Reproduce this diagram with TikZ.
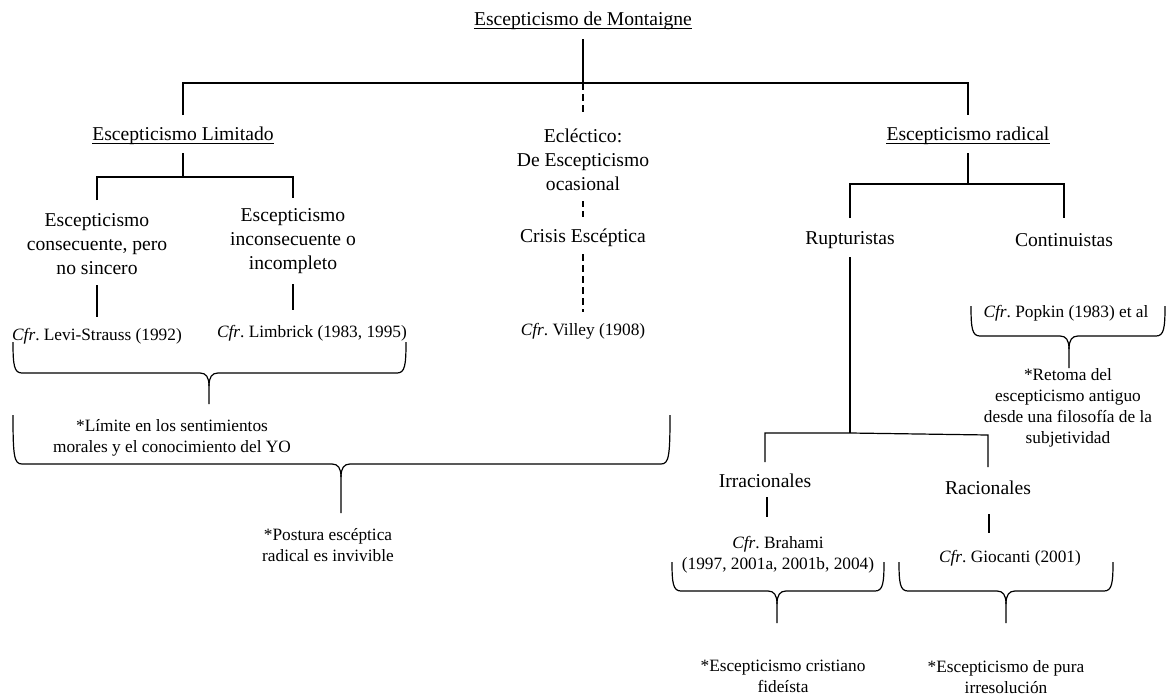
\documentclass[tikz,border=0pt]{standalone}
\usepackage{fontspec}
\setmainfont{Liberation Serif}
\usetikzlibrary{calc}
\frenchspacing
\tikzset{
  ln/.style={line width=1.2pt},
  dsh/.style={line width=1.2pt, dash pattern=on 7pt off 4pt},
  brc/.style={line width=1.2pt, line join=round},
  ul/.style={line width=0.8pt},
  big/.style={inner sep=0pt, align=center, anchor=center, font=\fontsize{19.6}{24}\selectfont},
  small/.style={inner sep=0pt, align=center, anchor=center, font=\fontsize{17.3}{21}\selectfont},
}
% xl, xr, ytop, ybottom, xtip, yend
\newcommand\bracepath[6]{%
  \draw[brc] (#1,#3) .. controls (#1,#4-8) and (#1+1,#4) .. (#1+9,#4) -- (#5-9,#4)
     .. controls (#5-3,#4) and (#5,#4+4) .. (#5,#4+13) -- (#5,#6);
  \draw[brc] (#2,#3) .. controls (#2,#4-8) and (#2-1,#4) .. (#2-9,#4) -- (#5+9,#4)
     .. controls (#5+3,#4) and (#5,#4+4) .. (#5,#4+13);
}
\newcommand\ulnode[1]{\draw[ul] ($(#1.base west)+(0,2.5)$) -- ($(#1.base east)+(0,2.5)$);}
\begin{document}
\begin{tikzpicture}[x=1pt,y=-1pt]
\useasboundingbox (0,0) rectangle (1167,696);

% ---- nodes ----
\node[big] (root) at (583,21) {Escepticismo de Montaigne};
\node[big] (lim) at (183,136) {Escepticismo Limitado};
\node[big] (ecl) at (583,160) {Ecléctico:\\De Escepticismo\\ocasional};
\node[big] (rad) at (968,136) {Escepticismo radical};

\node[big] (cons) at (97,244.5) {Escepticismo\\consecuente, pero\\no sincero};
\node[big] (incons) at (293,241) {Escepticismo\\inconsecuente o\\incompleto};
\node[big] (crisis) at (583,238) {Crisis Escéptica};

\node[small] (levi) at (97,336) {\textit{Cfr}. Levi-Strauss (1992)};
\node[small] (limb) at (312,333) {\textit{Cfr}. Limbrick (1983, 1995)};
\node[small] (villey) at (583,331) {\textit{Cfr}. Villey (1908)};

\node[small] (limite) at (172,438) {*Límite en los sentimientos\\morales y el conocimiento del YO};
\node[small] (postura) at (328,545.5) {*Postura escéptica\\radical es invivible};

\node[big] (rup) at (850,240) {Rupturistas};
\node[big] (cont) at (1064,240) {Continuistas};
\node[small] (popkin) at (1066,313) {\textit{Cfr}. Popkin (1983) et al};
\node[small] (retoma) at (1068,407.5) {*Retoma del\\escepticismo antiguo\\desde una filosofía de la\\subjetividad};

\node[big] (irr) at (765,481) {Irracionales};
\node[big] (rac) at (988,488) {Racionales};
\node[small] (brahami) at (778,555) {\textit{Cfr}. Brahami\\(1997, 2001a, 2001b, 2004)};
\node[small] (giocanti) at (1010,558) {\textit{Cfr}. Giocanti (2001)};
\node[small] (cristiano) at (783,676) {*Escepticismo cristiano\\fideísta};
\node[small] (pura) at (1006,677.5) {*Escepticismo de pura\\irresolución};

% underlines
\ulnode{root}
\ulnode{lim}
\ulnode{rad}

% ---- junctions ----
\coordinate (j0) at (583,83);
\coordinate (j1) at (183,177);
\coordinate (j2) at (968,184);
\coordinate (j3) at (850,433);

% ---- connectors ----
\draw[ln] ($(root.center)+(0,18)$) -- (j0);
\draw[ln] ($(lim.center)+(0,-21)$) |- (j0) -| ($(rad.center)+(0,-21)$);
\draw[dsh] (j0) -- ($(ecl.center)+(0,-45)$);

\draw[ln] ($(lim.center)+(0,17)$) -- (j1);
\draw[ln] ($(cons.center)+(0,-44.5)$) |- (j1) -| ($(incons.center)+(0,-43)$);

\draw[dsh, dash pattern=on 6pt off 4pt] ($(ecl.center)+(0,41)$) -- ($(crisis.center)+(0,-21)$);
\draw[dsh] ($(crisis.center)+(0,16)$) -- ($(villey.center)+(0,-19)$);

\draw[ln] ($(cons.center)+(0,40.5)$) -- ($(levi.center)+(0,-19)$);
\draw[ln] ($(incons.center)+(0,43)$) -- ($(incons.center |- limb.center)+(0,-23)$);

\draw[ln] ($(rad.center)+(0,17)$) -- (j2);
\draw[ln] ($(rup.center)+(0,-22)$) |- (j2) -| ($(cont.center)+(0,-22)$);

\draw[ln] ($(rup.center)+(0,17)$) -- (j3);
\draw[ln] ($(irr.center)+(0,-19)$) -- ($(irr.center)+(0,-48)$) -- (j3)
          -- ($(rac.center)+(0,-53)$) -- ($(rac.center)+(0,-21)$);

\draw[ln] ($(irr.center)+(2,16)$) -- ($(irr.center |- brahami.center)+(2,-38)$);
\draw[ln] ($(rac.center)+(1,26)$) -- ($(rac.center |- giocanti.center)+(1,-25)$);

% ---- braces ----
\bracepath{13}{406}{342}{373}{209}{404}
\bracepath{13}{670}{415}{464}{341}{513}
\bracepath{672}{884}{562}{591}{777}{623}
\bracepath{899}{1113}{562}{591}{1006}{623}
\bracepath{971}{1165}{306}{336}{1069}{368}
\end{tikzpicture}
\end{document}
